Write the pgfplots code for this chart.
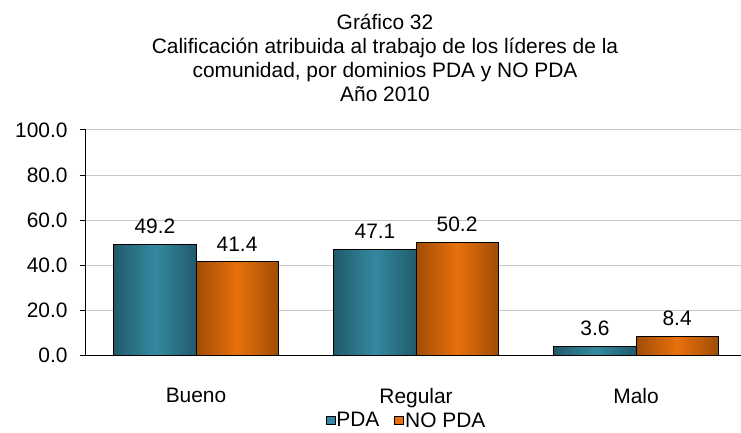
\documentclass[border=0pt]{standalone}
\usepackage{pgfplots}
\pgfplotsset{compat=1.18}
\usepackage{fontspec}
\setmainfont{Liberation Sans}
\definecolor{pda}{HTML}{3389A1}
\definecolor{pdadark}{HTML}{225B6B}
\definecolor{nopda}{HTML}{E8700C}
\definecolor{nopdadark}{HTML}{A04D06}
\newcommand{\chf}{\fontsize{21}{24}\selectfont}
\pgfplotsset{
  pdabar/.style={ybar, bar width=0.373, bar shift=0, forget plot, draw=black, line width=1bp,
    left color=pdadark, right color=pdadark, middle color=pda},
  nopdabar/.style={ybar, bar width=0.373, bar shift=0, forget plot, draw=black, line width=1bp,
    left color=nopdadark, right color=nopdadark, middle color=nopda},
}
\begin{document}
\begin{tikzpicture}[x=1bp,y=1bp]
\useasboundingbox (-86,-77) rectangle (655,355);
\begin{axis}[
  at={(0,0)}, anchor=south west,
  scale only axis, width=655bp, height=225bp,
  xmin=-0.5, xmax=2.477, ymin=0, ymax=100,
  axis x line*=bottom, axis y line*=left,
  axis line style={line width=1bp, black},
  ytick={0,20,...,100},
  yticklabel style={xshift=-9bp, /pgf/number format/.cd, fixed, fixed zerofill, precision=1},
  /pgf/number format/assume math mode=true,
  ymajorgrids, grid style={line width=1bp, black!22},
  xtick={0,1,2}, xticklabels={Bueno,Regular,Malo},
  xtick style={draw=none},
  extra x ticks={-0.5,0.5,1.5}, extra x tick labels={},
  extra x tick style={grid=none, tick style={draw=black, line width=1bp}, major tick length=6bp, tick align=outside},
  ytick style={line width=1bp, black}, major tick length=6bp, tick align=outside,
  ticklabel style={font=\chf},
  xticklabel style={yshift=-24bp},
  point meta=explicit symbolic,
  every node near coord/.append style={font=\chf, yshift=7bp},
  legend style={at={(0.4885,-0.291)}, anchor=center, draw=none, font=\chf,
    legend columns=2, /tikz/every even column/.append style={column sep=14bp},
    inner sep=0pt, nodes={inner sep=1bp}},
  legend image code/.code={\draw[#1, draw=black, line width=0.8bp] (0bp,-4bp) rectangle (9bp,4bp);},
]
\addplot[pdabar, nodes near coords] coordinates {(-0.1865,49.2) [49.2]};
\addplot[pdabar, nodes near coords] coordinates {(0.8135,47.1) [47.1]};
\addplot[pdabar, nodes near coords] coordinates {(1.8135,3.6) [3.6]};
\addplot[nopdabar, nodes near coords] coordinates {(0.1865,41.4) [41.4]};
\addplot[nopdabar, nodes near coords] coordinates {(1.1865,50.2) [50.2]};
\addplot[nopdabar, nodes near coords] coordinates {(2.1865,8.4) [8.4]};
\addlegendimage{fill=pda}
\addlegendentry{PDA}
\addlegendimage{fill=nopda}
\addlegendentry{NO PDA}
\end{axis}
\node[font=\chf, anchor=base] at (299,326) {Gráfico 32};
\node[font=\chf, anchor=base] at (299,302) {Calificación atribuida al trabajo de los líderes de la};
\node[font=\chf, anchor=base] at (299,278) {comunidad, por dominios PDA y NO PDA};
\node[font=\chf, anchor=base] at (299,254) {Año 2010};
\end{tikzpicture}
\end{document}
